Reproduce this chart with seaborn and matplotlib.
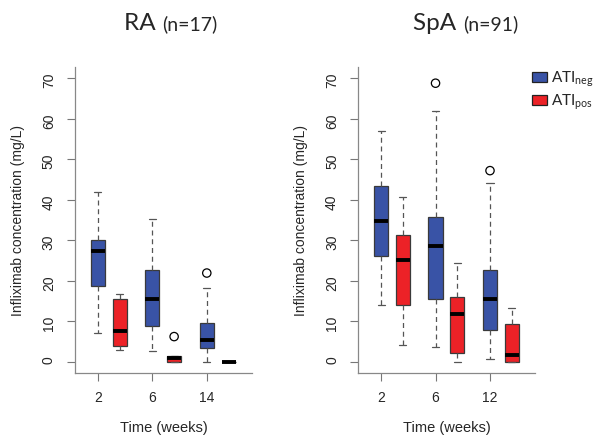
import numpy as np
import pandas as pd
import matplotlib
matplotlib.use('Agg')
import matplotlib.pyplot as plt
from matplotlib.patches import Patch
import seaborn as sns

# five-number summaries: [min, q1, median, q3, max]
ra_weeks = ['2', '6', '14']
ra_neg = [[7.2, 18.7, 27.3, 30.1, 42.0],
          [2.7, 8.7, 15.5, 22.7, 35.2],
          [0.0, 3.3, 5.3, 9.6, 18.3]]
ra_pos = [[2.9, 3.9, 7.7, 15.5, 16.8],
          [0.0, 0.0, 0.8, 1.3, 1.3],
          [0.0, 0.0, 0.0, 0.0, 0.0]]
ra_out_week = ['14', '6']
ra_out_group = ['neg', 'pos']
ra_out_val = [21.9, 6.2]

spa_weeks = ['2', '6', '12']
spa_neg = [[14.1, 26.2, 34.8, 43.4, 57.1],
           [3.6, 15.5, 28.7, 35.7, 62.0],
           [0.7, 7.8, 15.5, 22.7, 44.2]]
spa_pos = [[4.0, 13.9, 25.0, 31.4, 40.6],
           [0.0, 2.2, 11.9, 15.9, 24.3],
           [0.0, 0.0, 1.6, 9.2, 13.3]]
spa_out_week = ['6', '12']
spa_out_group = ['neg', 'neg']
spa_out_val = [68.8, 47.2]

groups = ['neg', 'pos']
palette = {'neg': '#3953a6', 'pos': '#ec2227'}

sns.set_style('ticks')
plt.rcParams['font.family'] = ['Liberation Sans', 'DejaVu Sans']


def summary_frame(weeks, neg, pos):
    rows = []
    for grp, stats in zip(groups, (neg, pos)):
        for w, s in zip(weeks, stats):
            rows += [(w, grp, v) for v in s]
    return pd.DataFrame(rows, columns=['week', 'group', 'value'])


def draw_panel(ax, weeks, neg, pos, out_week, out_group, out_val, name, n, split):
    df = summary_frame(weeks, neg, pos)
    sns.boxplot(data=df, x='week', y='value', hue='group', order=weeks,
                hue_order=groups, palette=palette, whis=(0, 100),
                showfliers=False, width=0.8, gap=0.35, linecolor='#3a3a3a',
                linewidth=0.9, saturation=1,
                medianprops=dict(color='black', linewidth=2.8, solid_capstyle='butt'),
                whiskerprops=dict(color='#555555', linestyle=(0, (4, 3))),
                capprops=dict(color='#555555'),
                legend=False, ax=ax)
    out = pd.DataFrame({'week': out_week, 'group': out_group, 'value': out_val})
    sns.stripplot(data=out, x='week', y='value', hue='group', order=weeks,
                  hue_order=groups, dodge=True, jitter=False, size=6,
                  linewidth=0.9, legend=False, ax=ax)
    for coll in ax.collections:
        coll.set_facecolor('none')
        coll.set_edgecolor('black')

    ax.set_ylim(-2.8, 72.8)
    ax.set_xlim(-0.62, 2.63)
    ax.set_yticks(np.arange(0, 71, 10))
    ax.set_xticks(np.arange(len(weeks)) - 0.2, weeks)
    ax.tick_params(axis='y', labelrotation=90, length=5.8, pad=8,
                   labelsize=10, color='#777777')
    ax.tick_params(axis='x', length=5.8, pad=7.5, labelsize=10, color='#777777')
    for side in ('top', 'right'):
        ax.spines[side].set_visible(False)
    for side in ('left', 'bottom'):
        ax.spines[side].set_color('#888888')
        ax.spines[side].set_linewidth(0.9)
    ax.set_xlabel('Time (weeks)', fontsize=10.5, labelpad=11)
    ax.set_ylabel('Infliximab concentration (mg/L)', fontsize=10, labelpad=12)

    ax.text(split, 1.121, name + ' ', ha='right', va='baseline', fontsize=17.5,
            family='Lato', transform=ax.transAxes)
    ax.text(split, 1.121, '(n=%d)' % n, ha='left', va='baseline', fontsize=14,
            family='Lato', transform=ax.transAxes)


fig = plt.figure(figsize=(6, 4.47), dpi=100)
ax1 = fig.add_axes([0.125, 0.1655, 0.295, 0.6846])
ax2 = fig.add_axes([0.597, 0.1655, 0.295, 0.6846])

draw_panel(ax1, ra_weeks, ra_neg, ra_pos, ra_out_week, ra_out_group, ra_out_val,
           'RA', 17, 0.49)
draw_panel(ax2, spa_weeks, spa_neg, spa_pos, spa_out_week, spa_out_group,
           spa_out_val, 'SpA', 91, 0.59)

handles = [Patch(facecolor=palette[g], edgecolor='#222222', linewidth=0.9)
           for g in groups]
labels = [r'ATI$_\mathregular{neg}$', r'ATI$_\mathregular{pos}$']
fig.legend(handles, labels, loc='upper left', bbox_to_anchor=(0.863, 0.875),
           frameon=False, handlelength=1.0, handleheight=0.6, handletextpad=0.3,
           labelspacing=0.2, prop={'family': 'Lato', 'size': 11})

fig.savefig('out.png', dpi=100)
